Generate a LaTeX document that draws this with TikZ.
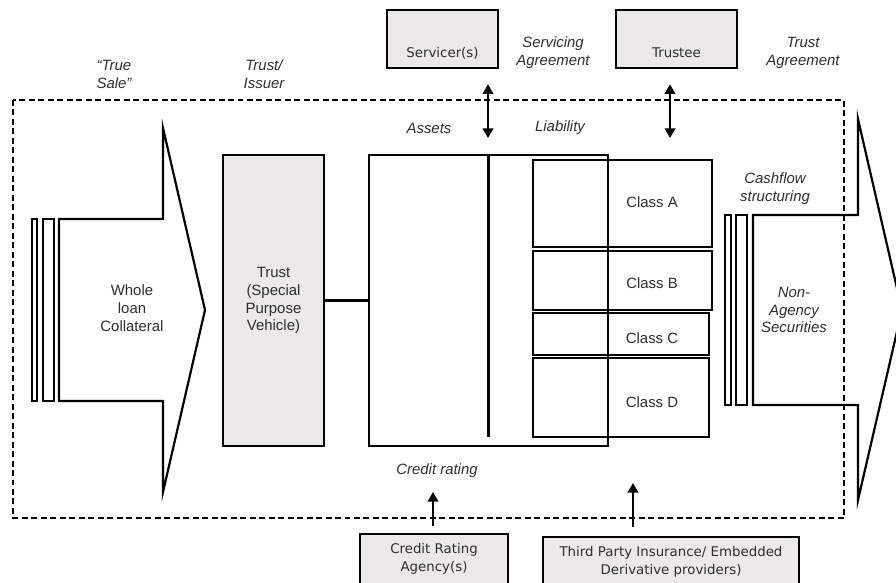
\documentclass[tikz,border=0pt]{standalone}
\usepackage{fontspec}
\setmainfont{Liberation Sans}
\newfontfamily\boxfont{DejaVu Sans}
\usetikzlibrary{arrows.meta,positioning,calc}
\definecolor{boxgrey}{HTML}{ECE9E9}
\definecolor{inkgrey}{HTML}{2E2E2E}

\begin{document}
\begin{tikzpicture}[x=0.02cm,y=-0.02cm,
    line/.style={line width=1.25pt,line join=miter},
    gbox/.style={draw,line width=1.5pt,fill=boxgrey,inner sep=0pt},
    blk/.style={draw,line width=1.25pt,inner sep=0pt},
    lbl/.style={inner sep=0pt,align=center,text=inkgrey,font=\fontsize{8.5}{10.2}\selectfont},
    itl/.style={inner sep=0pt,align=center,text=inkgrey,font=\fontsize{8.5}{10.2}\selectfont\itshape},
    btxt/.style={inner sep=0pt,align=center,text=inkgrey,font=\boxfont\fontsize{7.6}{10}\selectfont},
    dbl/.style={line width=1.25pt,{Triangle[width=6pt,length=5.5pt]}-{Triangle[width=6pt,length=5.5pt]}},
    sgl/.style={line width=1.25pt,-{Triangle[width=6pt,length=5.5pt]}}]
  \useasboundingbox (0,0) rectangle (896,582);
  \clip (0,0) rectangle (896,582);

  % outside parties
  \path (442.5,39) node (srv) [gbox,minimum width=2.22cm,minimum height=1.16cm] {}
        (676.5,39) node (trs) [gbox,minimum width=2.42cm,minimum height=1.16cm] {}
        (434,567)  node (cra) [gbox,minimum width=2.96cm,minimum height=1.32cm] {}
        (671,568.5) node (tpp) [gbox,minimum width=5.12cm,minimum height=1.26cm] {};
  \path (442.5,53) node (srvtxt) [btxt] {Servicer(s)}
        (676.5,53) node (trstxt) [btxt] {Trustee}
        (434,559)  node (cratxt) [btxt] {Credit Rating\\Agency(s)}
        (671,562)  node (tpptxt) [btxt] {Third Party Insurance/ Embedded\\Derivative providers)};

  % italic captions
  \path (114,74)  node (sale)  [itl] {“True\\Sale”}
        (264,74)  node (issr)  [itl] {Trust/\\Issuer}
        (553,53)  node (sagr)  [itl] {Servicing\\Agreement}
        (803,53)  node (tagr)  [itl] {Trust\\Agreement}
        (429,128) node (asst)  [itl] {Assets}
        (560,128) node (liab)  [itl] {Liability}
        (775,189) node (cfs)   [itl] {Cashflow\\structuring}
        (437,471) node (crat)  [itl] {Credit rating};

  % collateral arrow
  \draw[line] (32,219) rectangle (37,401) (43,219) rectangle (54,401);
  \draw[line] (59,219) -- (163,219) -- (163,128) -- (205,310) -- (163,492)
              -- (163,401) -- (59,401) -- cycle;
  \path (132,308) node (coll) [lbl] {Whole\\loan\\Collateral};

  % trust
  \path (273.5,300.5) node (spv) [gbox,line width=1.25pt,minimum width=2.02cm,minimum height=5.82cm,
        font=\fontsize{8.5}{10.2}\selectfont,text=inkgrey,align=center] {Trust\\(Special\\Purpose\\Vehicle)};

  % balance sheet
  \path (488.5,300.5) node (pool) [blk,minimum width=4.78cm,minimum height=5.82cm] {};
  \draw[line] (spv) -- (pool);
  \draw[line] (pool.north) -- ++(0,283);

  % tranches
  \path (622.5,203.5) node (clA) [blk,minimum width=3.58cm,minimum height=1.74cm] {}
        (622.5,280.5) node (clB) [blk,minimum width=3.58cm,minimum height=1.18cm] {}
        (621,334)     node (clC) [blk,minimum width=3.52cm,minimum height=0.84cm] {}
        (621,397.5)   node (clD) [blk,minimum width=3.52cm,minimum height=1.58cm] {};
  \path (652,202) node (tA) [lbl] {Class A}
        (652,283) node (tB) [lbl] {Class B}
        (652,338) node (tC) [lbl] {Class C}
        (652,402) node (tD) [lbl] {Class D};

  % securities arrow
  \draw[line] (725,215) rectangle (731,405) (736,215) rectangle (747,405);
  \draw[line] (753,215) -- (858,215) -- (858,119) -- (902,310) -- (858,500)
              -- (858,405) -- (753,405) -- cycle;
  \path (794,310) node (sec) [itl] {Non-\\Agency\\Securities};

  % boundary of the deal
  \draw[line width=1.1pt,dash pattern=on 3.4pt off 2pt] (13,100) rectangle (844,518);

  % links
  \coordinate (srvend) at (488,138);
  \coordinate (trsend) at (670,138);
  \coordinate (craend) at (433,492);
  \coordinate (tppend) at (633,483);
  \draw[dbl] (srv.south -| srvend) ++(0,15) -- (srvend);
  \draw[dbl] (trs.south -| trsend) ++(0,15) -- (trsend);
  \draw[sgl,shorten <=0.14cm] (cra.north -| craend) -- (craend);
  \draw[sgl,shorten <=0.18cm] (tpp.north -| tppend) -- (tppend);
\end{tikzpicture}
\end{document}
